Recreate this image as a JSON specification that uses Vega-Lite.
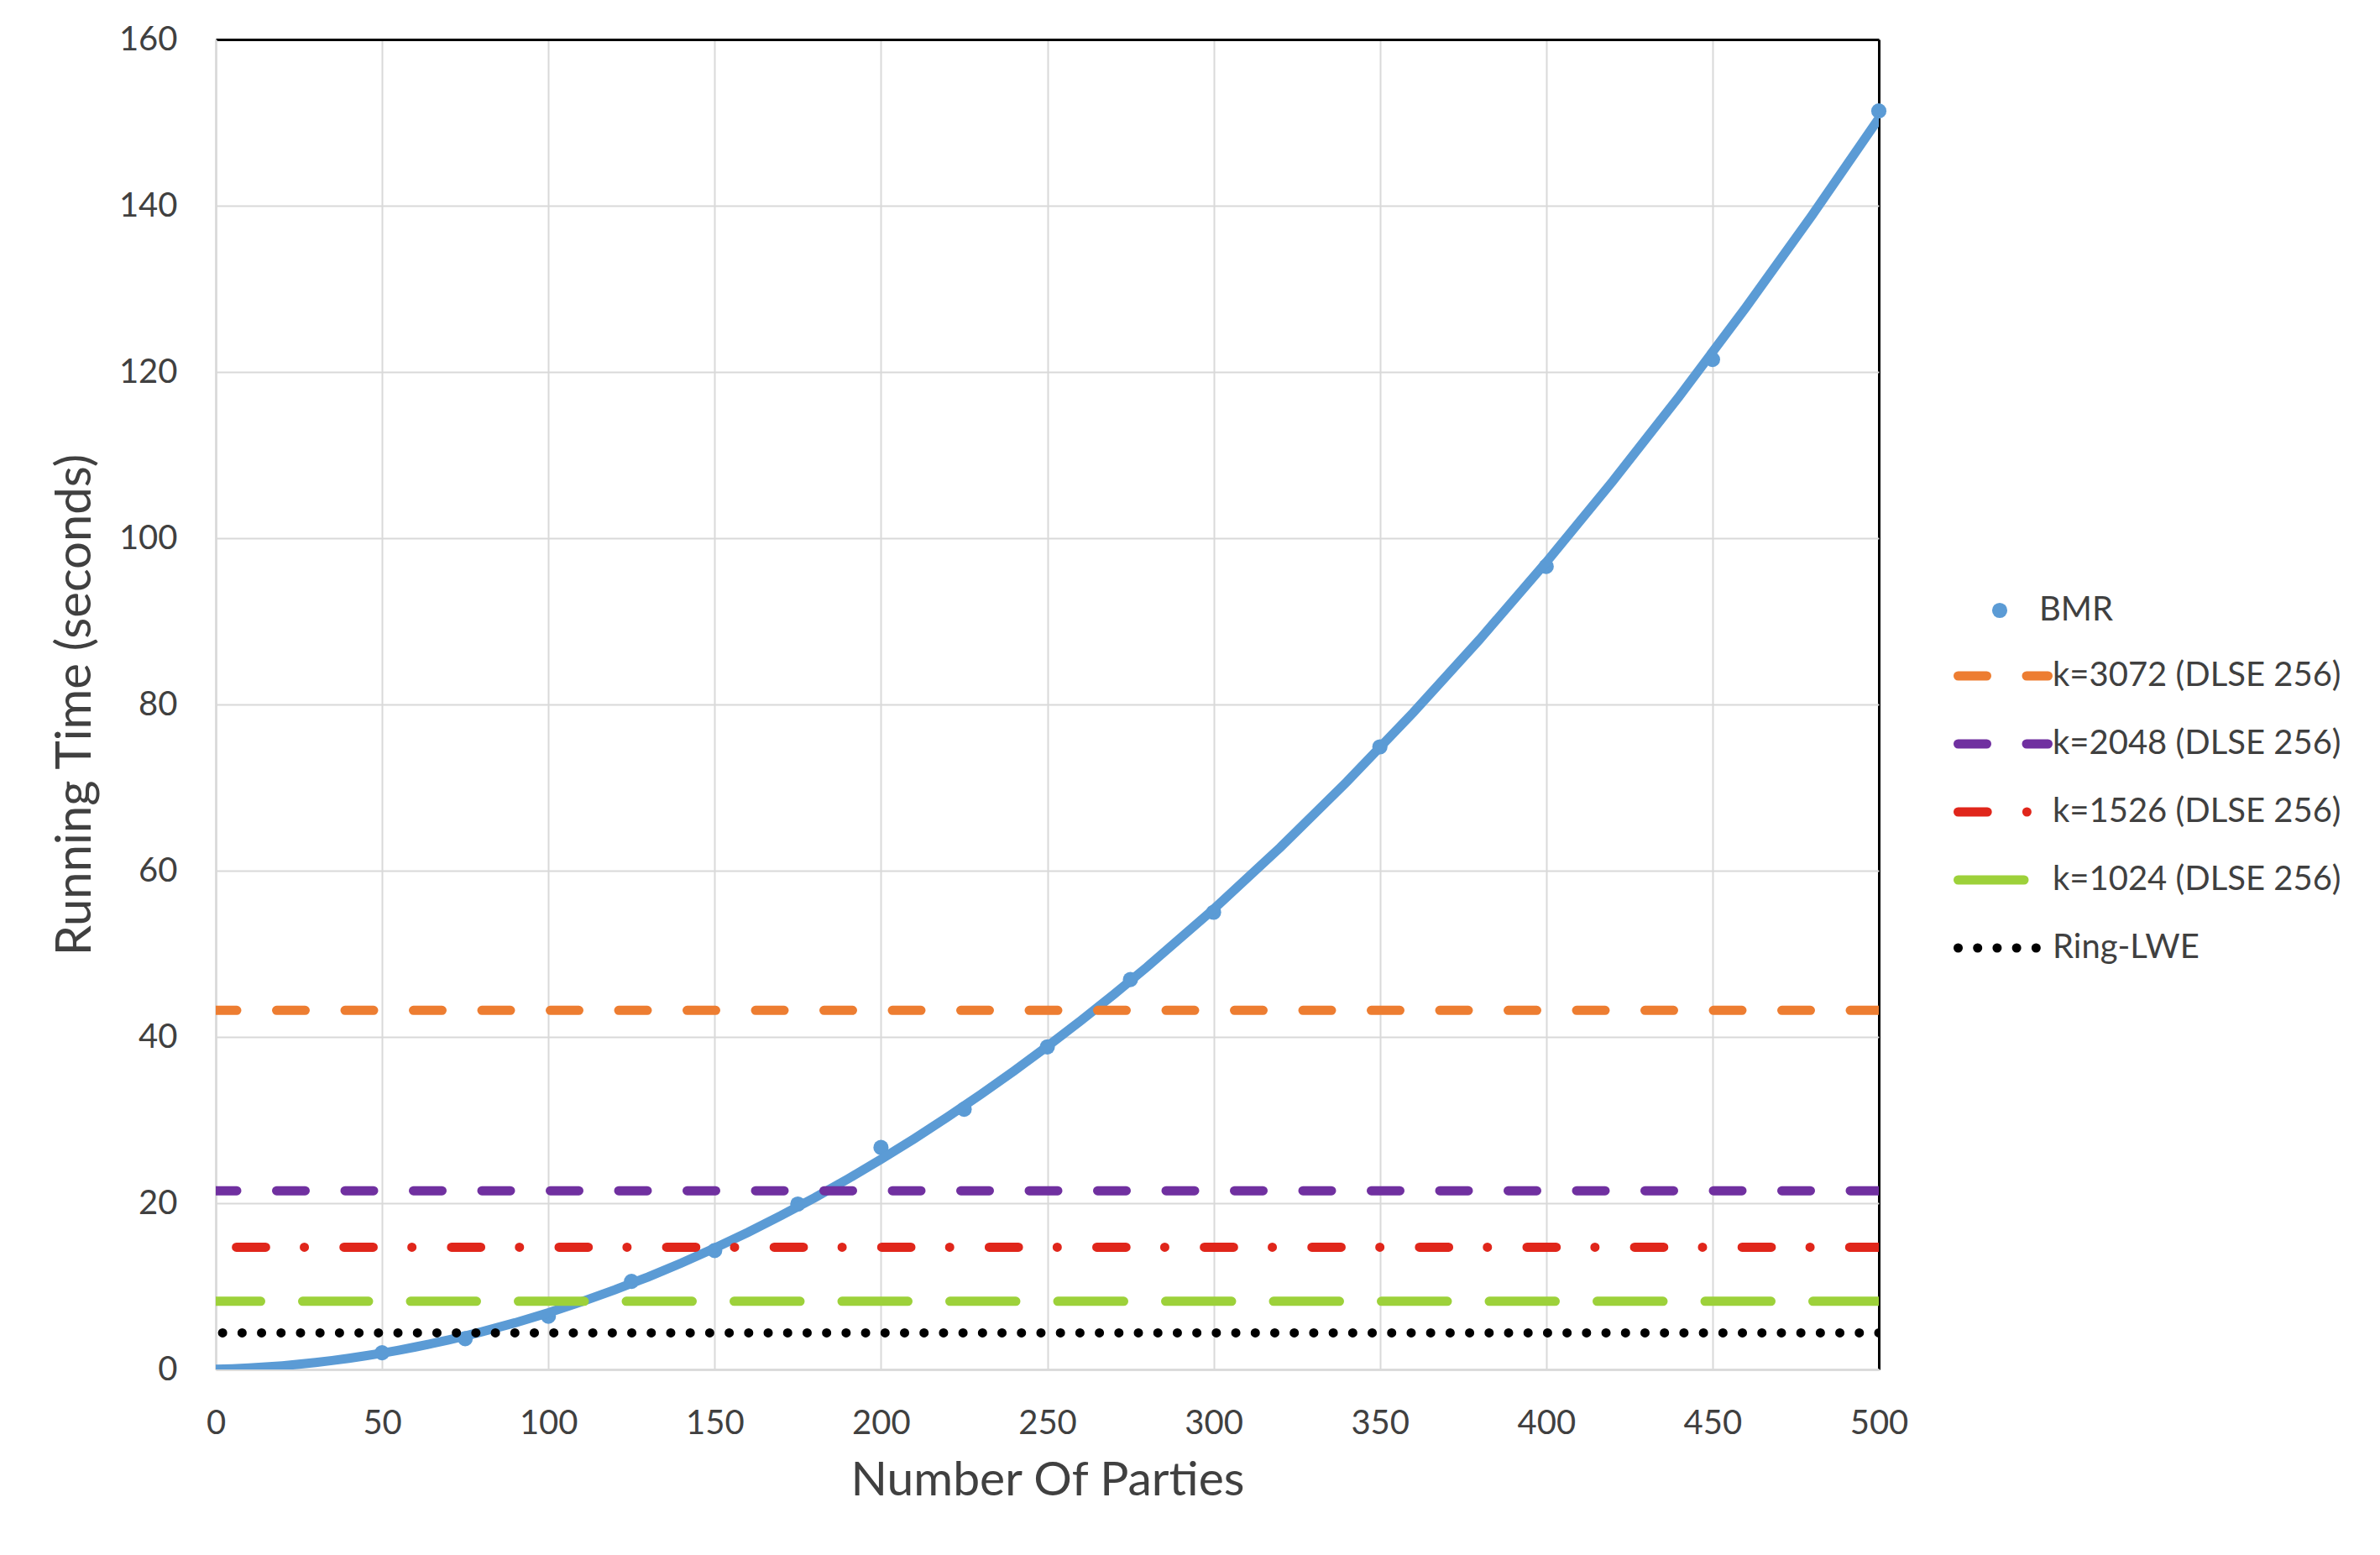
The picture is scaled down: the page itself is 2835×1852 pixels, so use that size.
{
  "$schema": "https://vega.github.io/schema/vega-lite/v6.json",
  "width": 1981,
  "height": 1584,
  "autosize": {"type": "none"},
  "padding": {"left": 257, "top": 47, "right": 597, "bottom": 221},
  "background": "white",
  "config": {"view": {"stroke": null}, "font": "Lato"},
  "datasets": {
    "bmr": [
      {"parties": 50, "time": 2.0, "series": "BMR"},
      {"parties": 75, "time": 3.7, "series": "BMR"},
      {"parties": 100, "time": 6.4, "series": "BMR"},
      {"parties": 125, "time": 10.6, "series": "BMR"},
      {"parties": 150, "time": 14.3, "series": "BMR"},
      {"parties": 175, "time": 19.9, "series": "BMR"},
      {"parties": 200, "time": 26.7, "series": "BMR"},
      {"parties": 225, "time": 31.3, "series": "BMR"},
      {"parties": 250, "time": 38.8, "series": "BMR"},
      {"parties": 275, "time": 46.9, "series": "BMR"},
      {"parties": 300, "time": 55.0, "series": "BMR"},
      {"parties": 350, "time": 74.9, "series": "BMR"},
      {"parties": 400, "time": 96.6, "series": "BMR"},
      {"parties": 450, "time": 121.5, "series": "BMR"},
      {"parties": 500, "time": 151.4, "series": "BMR"}
    ],
    "levels": [
      {"series": "k=3072 (DLSE 256)", "time": 43.2},
      {"series": "k=2048 (DLSE 256)", "time": 21.5},
      {"series": "k=1526 (DLSE 256)", "time": 14.7},
      {"series": "k=1024 (DLSE 256)", "time": 8.2},
      {"series": "Ring-LWE", "time": 4.4}
    ]
  },
  "layer": [
    {
      "data": {"name": "bmr"},
      "mark": {"type": "point", "filled": true, "size": 330, "opacity": 1, "clip": false},
      "encoding": {
        "x": {
          "field": "parties", "type": "quantitative",
          "scale": {"domain": [0, 500], "nice": false, "zero": true},
          "axis": {
            "title": "Number Of Parties",
            "values": [0, 50, 100, 150, 200, 250, 300, 350, 400, 450, 500],
            "grid": true,
            "gridColor": {"condition": {"test": "datum.value === 500", "value": "#000000"}, "value": "#D9D9D9"},
            "gridWidth": {"condition": {"test": "datum.value === 500", "value": 3}, "value": 2},
            "domainColor": "#D9D9D9", "domainWidth": 2.5,
            "ticks": false,
            "labelFont": "Lato", "labelFontSize": 40, "labelColor": "#404040",
            "labelPadding": 44, "labelFlush": false, "labelOverlap": false,
            "titleFont": "Lato", "titleFontSize": 57, "titleColor": "#404040", "titleFontWeight": "normal",
            "titlePadding": 20
          }
        },
        "y": {
          "field": "time", "type": "quantitative",
          "scale": {"domain": [0, 160], "nice": false},
          "axis": {
            "title": "Running Time (seconds)",
            "values": [0, 20, 40, 60, 80, 100, 120, 140, 160],
            "grid": true,
            "gridColor": {"condition": {"test": "datum.value === 160", "value": "#000000"}, "value": "#D9D9D9"},
            "gridWidth": {"condition": {"test": "datum.value === 160", "value": 3}, "value": 2},
            "domainColor": "#D9D9D9", "domainWidth": 2.5,
            "ticks": false,
            "labelFont": "Lato", "labelFontSize": 40, "labelColor": "#404040",
            "labelPadding": 46, "labelOverlap": false,
            "titleFont": "Lato", "titleFontSize": 58, "titleColor": "#404040", "titleFontWeight": "normal",
            "titlePadding": 22
          }
        },
        "color": {
          "field": "series", "type": "nominal",
          "scale": {"domain": ["BMR"], "range": ["#5B9BD5"]},
          "legend": {
            "orient": "none", "legendX": 2070, "legendY": 660,
            "title": null, "symbolType": "circle", "symbolSize": 330,
            "symbolOffset": 35, "labelOffset": 27, "labelLimit": 700,
            "labelFont": "Lato", "labelFontSize": 40, "labelColor": "#404040"
          }
        }
      }
    },
    {
      "data": {"name": "bmr"},
      "transform": [
        {"regression": "time", "on": "parties", "method": "poly", "order": 2, "extent": [0, 500]}
      ],
      "mark": {"type": "line", "color": "#5B9BD5", "strokeWidth": 11, "strokeCap": "round", "clip": true},
      "encoding": {
        "x": {"field": "parties", "type": "quantitative"},
        "y": {"field": "time", "type": "quantitative"}
      }
    },
    {
      "data": {"name": "levels"},
      "mark": {"type": "rule", "strokeCap": "round", "clip": true},
      "encoding": {
        "y": {"field": "time", "type": "quantitative"},
        "color": {
          "field": "series", "type": "nominal",
          "scale": {
            "domain": ["k=3072 (DLSE 256)", "k=2048 (DLSE 256)", "k=1526 (DLSE 256)", "k=1024 (DLSE 256)", "Ring-LWE"],
            "range": ["#ED7D31", "#7030A0", "#E0261B", "#9DD13A", "#000000"]
          },
          "legend": {
            "orient": "none", "legendX": 2070, "legendY": 699,
            "title": null, "symbolType": "stroke", "symbolSize": 11449, "symbolStrokeWidth": 11,
            "labelOffset": 0, "rowPadding": -1, "labelLimit": 700,
            "labelFont": "Lato", "labelFontSize": 40, "labelColor": "#404040",
            "encode": {
              "symbols": {
                "update": {
                  "strokeDash": {"scale": "strokeDash", "field": "value"},
                  "strokeCap": {"value": "round"}
                }
              }
            }
          }
        },
        "strokeDash": {
          "field": "series", "type": "nominal",
          "scale": {
            "domain": ["k=3072 (DLSE 256)", "k=2048 (DLSE 256)", "k=1526 (DLSE 256)", "k=1024 (DLSE 256)", "Ring-LWE"],
            "range": [[34, 47.5], [34, 47.5], [34.7, 47.2, 0.01, 46.2], [78.5, 50], [0.01, 23.2]]
          },
          "legend": null
        },
        "strokeWidth": {
          "field": "series", "type": "nominal",
          "scale": {
            "domain": ["k=3072 (DLSE 256)", "k=2048 (DLSE 256)", "k=1526 (DLSE 256)", "k=1024 (DLSE 256)", "Ring-LWE"],
            "range": [11, 11, 11, 11, 9]
          },
          "legend": null
        }
      }
    }
  ],
  "resolve": {"scale": {"color": "independent"}}
}
